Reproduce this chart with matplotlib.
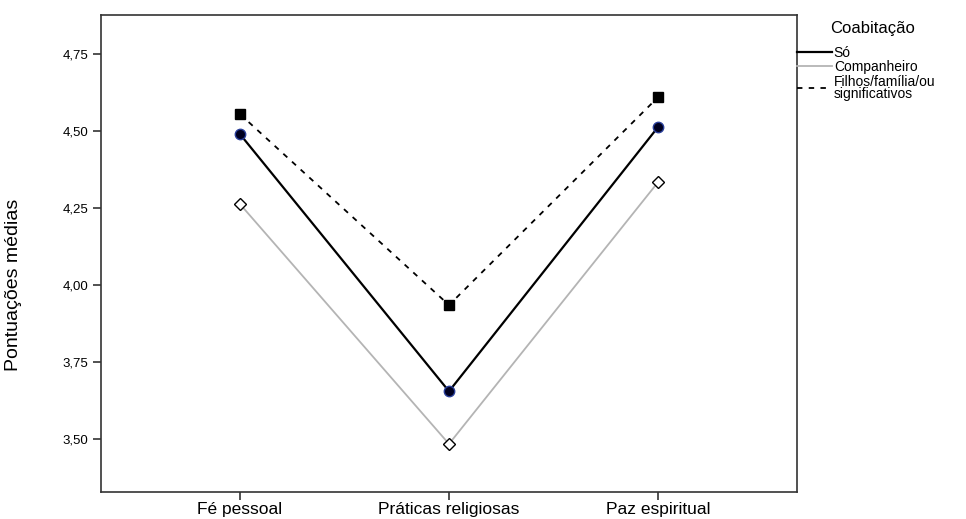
import matplotlib
matplotlib.use("Agg")
import matplotlib.pyplot as plt
from matplotlib.lines import Line2D

plt.rcParams['font.family'] = ['Liberation Sans', 'DejaVu Sans']

categorias = ["Fé pessoal", "Práticas religiosas", "Paz espiritual"]
so = [4.49, 3.655, 4.513]
companheiro = [4.263, 3.484, 4.334]
filhos = [4.555, 3.935, 4.61]
grupos = ["Só", "Companheiro", "Filhos/família/ou\nsignificativos"]
yticks = [3.50, 3.75, 4.00, 4.25, 4.50, 4.75]

fig = plt.figure(figsize=(9.66, 5.19), dpi=100)
ax = fig.add_axes([101/966, 27/519, 696/966, 477/519])

x = [1, 2, 3]
ax.plot(x, companheiro, color="#b4b4b4", lw=1.3, marker="D", ms=6,
        mfc="white", mec="black", mew=1.0, zorder=2)
ax.plot(x, so, color="black", lw=1.6, marker="o", ms=7.5,
        mfc="#000020", mec="#2a3f9a", mew=1.0, zorder=3)
ax.plot(x, filhos, color="black", lw=1.3, ls=(0, (3, 3.5)), marker="s", ms=6.5,
        mfc="black", mec="black", zorder=3)

ax.set_xlim(0.335, 3.665)
ax.set_ylim(3.328, 4.877)
ax.set_xticks(x)
ax.set_xticklabels(categorias, fontsize=12.5)
ax.set_yticks(yticks)
ax.set_yticklabels([f"{v:.2f}".replace(".", ",") for v in yticks], fontsize=9.5)
ax.tick_params(direction="out", length=6, width=1.2, color="#333333", pad=3)
ax.tick_params(axis="x", pad=1)
for s in ax.spines.values():
    s.set_linewidth(1.2)
    s.set_color("#333333")

ax.set_ylabel("Pontuações médias", fontsize=14,
              family=['Liberation Sans Narrow', 'Liberation Sans', 'DejaVu Sans'])
ax.yaxis.set_label_coords(-0.114, 0.434)

handles = [Line2D([], [], color="black", lw=1.6),
           Line2D([], [], color="#b4b4b4", lw=1.3),
           Line2D([], [], color="black", lw=1.3, ls=(0, (3, 3.5)))]
leg = ax.legend(handles, grupos, loc="upper left", bbox_to_anchor=(1.0, 0.936),
                frameon=False, fontsize=10, handlelength=2.5, handletextpad=0.15,
                borderpad=0, borderaxespad=0, labelspacing=0.05)
for t in leg.get_texts():
    t.set_linespacing(0.8)

fig.text(830/966, 1 - 28/519, "Coabitação", fontsize=12, va="center", ha="left")

fig.savefig("out.png", dpi=100)
